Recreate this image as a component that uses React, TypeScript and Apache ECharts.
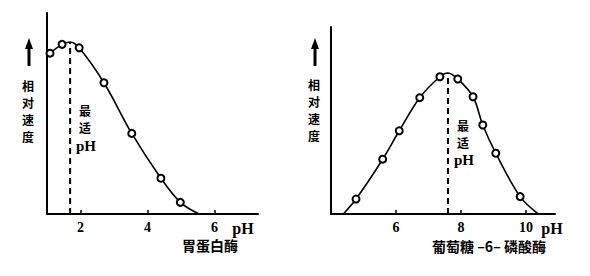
import React, { useEffect, useRef } from "react";
import * as echarts from "echarts";

// Pepsin (胃蛋白酶): pH vs relative speed (0–100)
const pepsinPH = [1.09, 1.45, 1.69, 1.96, 2.7, 3.53, 4.4, 4.98, 5.54];
const pepsinRate = [80.0, 84.4, 85.6, 82.7, 65.3, 40.1, 17.8, 5.8, 0];
const pepsinMarked = [true, true, false, true, true, true, true, true, false];
const pepsinOptimum = 1.69;

// Glucose-6-phosphatase (葡萄糖-6-磷酸酶)
const g6pPH = [4.38, 4.77, 5.59, 6.1, 6.73, 7.35, 7.6, 7.9, 8.37, 8.67, 9.07, 9.82, 10.38];
const g6pRate = [0, 8.0, 29.3, 44.5, 62.2, 73.4, 75.4, 72.2, 62.7, 47.6, 32.5, 9.3, 0];
const g6pMarked = [false, true, true, true, true, true, false, true, true, true, true, true, false];
const g6pOptimum = 7.6;

const pepsinTicks = [2, 4, 6];
const g6pTicks = [6, 8, 10];

const yLabelChars = ["相", "对", "速", "度"];
const optimumChars = ["最", "适"];
const pepsinName = "胃蛋白酶";
const g6pName = "葡萄糖 –6– 磷酸酶";

const CJK = "'Noto Sans CJK SC', sans-serif";
const SERIF = "'Liberation Serif', 'DejaVu Serif', serif";

function buildData(xs: number[], ys: number[], marked: boolean[]) {
  return xs.map((x, i) => ({
    value: [x, ys[i]],
    symbol: marked[i] ? "emptyCircle" : "none",
  }));
}

export default function App() {
  const ref = useRef<HTMLDivElement>(null);
  useEffect(() => {
    if (!ref.current) return;
    const chart = echarts.init(ref.current, null, { renderer: "svg" });

    const xAxisCommon = (min: number, max: number, ticks: number[], idx: number) => ({
      type: "value",
      gridIndex: idx,
      min,
      max,
      axisLine: { show: true, lineStyle: { color: "#000", width: 2 } },
      axisTick: {
        show: true,
        inside: true,
        length: 4,
        customValues: ticks,
        lineStyle: { color: "#000", width: 1.5 },
      },
      axisLabel: {
        customValues: ticks,
        color: "#000",
        fontFamily: SERIF,
        fontWeight: "bold",
        fontSize: 14,
        margin: 6,
      },
      splitLine: { show: false },
    });
    const yAxisCommon = (idx: number) => ({
      type: "value",
      gridIndex: idx,
      min: 0,
      max: 100,
      axisLine: { show: true, lineStyle: { color: "#000", width: 2 } },
      axisTick: { show: false },
      axisLabel: { show: false },
      splitLine: { show: false },
    });

    const lineSeries = (data: any[], idx: number) => ({
      type: "line",
      xAxisIndex: idx,
      yAxisIndex: idx,
      data,
      smooth: 0.35,
      symbolSize: 7,
      lineStyle: { color: "#000", width: 1.6 },
      itemStyle: { color: "#000", borderColor: "#000", borderWidth: 1.6 },
    });
    const dashSeries = (x: number, top: number, idx: number) => ({
      type: "line",
      xAxisIndex: idx,
      yAxisIndex: idx,
      data: [
        [x, 0],
        [x, top],
      ],
      symbol: "none",
      lineStyle: { color: "#000", width: 2, type: [6, 4] },
    });

    const texts: any[] = [];
    const addText = (text: string, x: number, y: number, size: number, font: string) =>
      texts.push({
        type: "text",
        x,
        y,
        style: {
          text,
          fill: "#000",
          font: `bold ${size}px ${font}`,
          lineHeight: size,
          align: "center",
          verticalAlign: "middle",
        },
      });

    const CH = 12; // CJK character size
    yLabelChars.forEach((c, i) => {
      addText(c, 28, 85 + i * 17, CH, CJK);
      addText(c, 314, 84 + i * 17, CH, CJK);
    });
    optimumChars.forEach((c, i) => {
      addText(c, 85, 110 + i * 17, CH, CJK);
      addText(c, 463, 125 + i * 17, CH, CJK);
    });
    addText("pH", 86, 146, 15, SERIF);
    addText("pH", 464, 160, 15, SERIF);
    addText("pH", 243, 228, 16, SERIF);
    addText("pH", 552, 228, 16, SERIF);
    addText(pepsinName, 210, 245, 14, CJK);
    addText(g6pName, 489, 246, 14, CJK);

    const arrow = (x: number) => [
      {
        type: "line",
        shape: { x1: x, y1: 66, x2: x, y2: 46 },
        style: { stroke: "#000", lineWidth: 3 },
      },
      {
        type: "polygon",
        shape: { points: [[x - 4, 49], [x + 4, 49], [x, 38]] },
        style: { fill: "#000" },
      },
    ];

    chart.setOption({
      animation: false,
      backgroundColor: "#fff",
      grid: [
        { left: 47, top: 13, width: 211, height: 201 },
        { left: 331, top: 27, width: 224, height: 187 },
      ],
      xAxis: [xAxisCommon(1, 1 + 211 / 33.5, pepsinTicks, 0), xAxisCommon(4, 4 + 224 / 32.5, g6pTicks, 1)],
      yAxis: [yAxisCommon(0), yAxisCommon(1)],
      series: [
        lineSeries(buildData(pepsinPH, pepsinRate, pepsinMarked), 0),
        dashSeries(pepsinOptimum, 85.6, 0),
        lineSeries(buildData(g6pPH, g6pRate, g6pMarked), 1),
        dashSeries(g6pOptimum, 75.4, 1),
      ],
      graphic: [...texts, ...arrow(29), ...arrow(315)],
    });
    return () => chart.dispose();
  }, []);
  return (
    <div
      ref={ref}
      style={{ position: "fixed", left: 0, top: 0, width: 590, height: 276, background: "#fff" }}
    />
  );
}
